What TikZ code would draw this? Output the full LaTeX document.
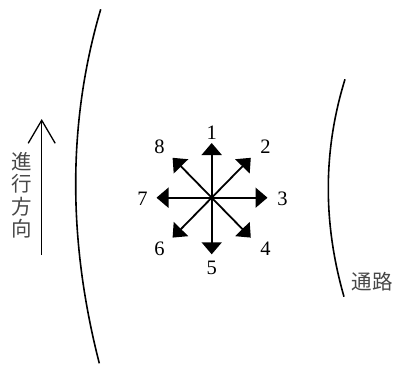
\documentclass[tikz,border=0pt]{standalone}
\usepackage{fontspec}
\setmainfont{Liberation Serif}
\newfontfamily\cjk{Noto Sans CJK JP}
\usetikzlibrary{arrows.meta}
\tikzset{
  dirarrow/.style={line width=1.8pt,-{Triangle[length=12pt,width=20pt]}},
  numlabel/.style={font=\fontsize{20.5}{20.5}\selectfont,inner sep=0pt},
  cjklabel/.style={font=\cjk\fontsize{20.5}{22.5}\selectfont,text=black!72,inner sep=0pt},
  wall/.style={line width=1.6pt}
}
\begin{document}
\begin{tikzpicture}[x=1pt,y=-1pt]
\useasboundingbox (0,0) rectangle (394,365);
% walls
\coordinate (la) at (100.7,9.3);
\coordinate (lb) at (99.3,363.3);
\draw[wall] (la) .. controls (67.8,121.2) and (67.4,239.2) .. (lb);
\coordinate (ra) at (345,79.3);
\coordinate (rb) at (344,296.7);
\draw[wall] (ra) .. controls (323.1,150.0) and (322.7,222.5) .. (rb);
% star
\coordinate (c) at (211.7,197.7);
\coordinate (t1) at (211.7,143.0);
\coordinate (t2) at (250.8,157.8);
\coordinate (t3) at (267.5,197.7);
\coordinate (t4) at (250.8,237.6);
\coordinate (t5) at (211.7,254.3);
\coordinate (t6) at (172.6,237.6);
\coordinate (t7) at (156.5,197.7);
\coordinate (t8) at (172.6,157.8);
\foreach \i in {1,...,8} {\draw[dirarrow] (c) -- (t\i);}
\node[numlabel] (n1) at (211.7,132.5) {1};
\node[numlabel] (n2) at (265.5,146.5) {2};
\node[numlabel] (n3) at (282.5,198.5) {3};
\node[numlabel] (n4) at (265.5,248.5) {4};
\node[numlabel] (n5) at (211.7,267.5) {5};
\node[numlabel] (n6) at (159.5,248.5) {6};
\node[numlabel] (n7) at (142.5,198.5) {7};
\node[numlabel] (n8) at (159.5,146.5) {8};
% direction arrow
\coordinate (ab) at (41.7,255);
\coordinate (at) at (41.7,119);
\draw[line width=1.3pt,-{Straight Barb[length=23pt,width=27pt,line width=1.3pt]}] (ab) -- (at);
\node[cjklabel,align=center] (dir) at (21.5,195) {進\\行\\方\\向};
\node[cjklabel] (road) at (372.2,282) {通路};
\end{tikzpicture}
\end{document}
